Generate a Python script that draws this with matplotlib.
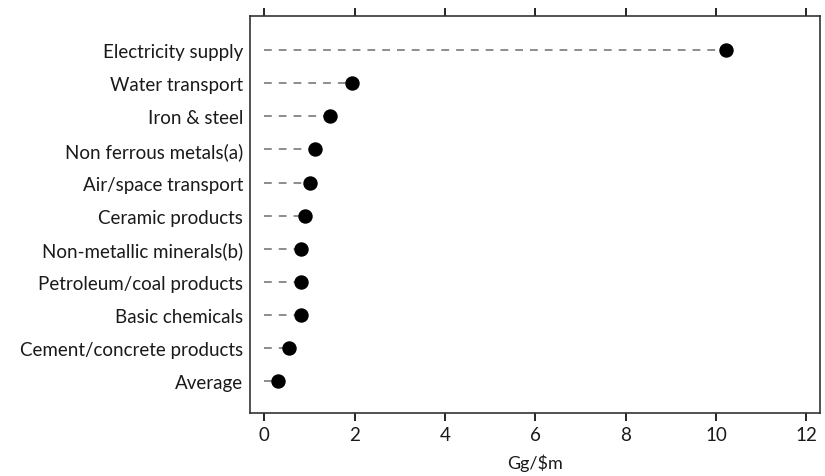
import matplotlib
matplotlib.use("Agg")
import matplotlib.pyplot as plt

categories = ["Electricity supply", "Water transport", "Iron & steel",
              "Non ferrous metals(a)", "Air/space transport", "Ceramic products",
              "Non-metallic minerals(b)", "Petroleum/coal products",
              "Basic chemicals", "Cement/concrete products", "Average"]
values = [10.22, 1.93, 1.46, 1.11, 1.0, 0.9, 0.82, 0.82, 0.81, 0.55, 0.31]
xticks = [0, 2, 4, 6, 8, 10, 12]

plt.rcParams['font.family'] = ['Lato', 'DejaVu Sans']

fig = plt.figure(figsize=(8.25, 4.77), dpi=100)
ax = fig.add_axes([0.303, 0.132, 0.691, 0.832])

n = len(categories)
ys = [n - 1 - i for i in range(n)]
for y, v in zip(ys, values):
    ax.plot([0, v], [y, y], color='#8c8c8c', lw=1.4, dashes=(4, 3.6), zorder=1)
ax.scatter(values, ys, s=88, color='black', zorder=3)

ax.set_yticks(ys)
ax.set_yticklabels(categories, fontsize=13.5, color='#1a1a1a')
ax.tick_params(axis='y', length=0, pad=5)
ax.set_xticks(xticks)
ax.set_xticklabels([str(t) for t in xticks], fontsize=13.5, color='#1a1a1a')
ax.tick_params(axis='x', direction='out', length=6, width=1.2, top=True,
               labeltop=False, pad=3)
ax.set_xlim(-0.32, 12.3)
ax.set_ylim(-0.97, n - 1 + 1.03)
ax.set_xlabel("Gg/$m", fontsize=13, color='#1a1a1a', labelpad=8)
for s in ax.spines.values():
    s.set_linewidth(1.2)
    s.set_color('#333333')

fig.savefig("out.png", dpi=100)
